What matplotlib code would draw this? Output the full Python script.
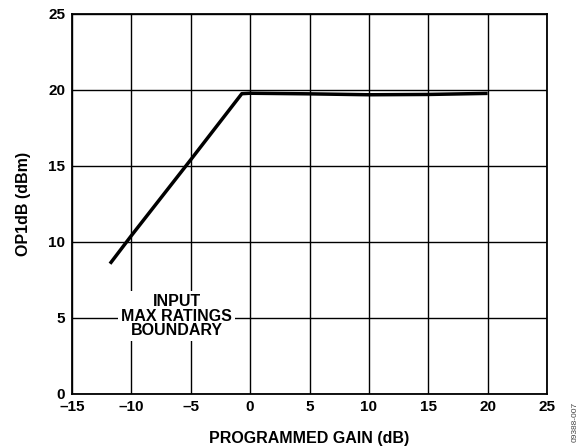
import matplotlib
matplotlib.use("Agg")
import matplotlib.pyplot as plt

gain_db = [-11.8, -10.0, -5.0, -0.7, 0.0, 5.0, 10.0, 15.0, 20.0]
op1db_dbm = [8.55, 10.4, 15.4, 19.75, 19.78, 19.74, 19.68, 19.7, 19.77]

xticks = [-15, -10, -5, 0, 5, 10, 15, 20, 25]
xticklabels = ["\u201315", "\u201310", "\u20135", "0", "5", "10", "15", "20", "25"]
yticks = [0, 5, 10, 15, 20, 25]

plt.rcParams['font.family'] = ['Liberation Sans', 'DejaVu Sans']
plt.rcParams['font.weight'] = 'bold'

fig = plt.figure(figsize=(5.81, 4.47), dpi=100)
ax = fig.add_axes([72/581, 1 - 393.5/447, (547 - 72)/581, (393.5 - 14)/447])

ax.set_xlim(-15, 25)
ax.set_ylim(0, 25)
ax.set_xticks(xticks)
ax.set_xticklabels(xticklabels)
ax.set_yticks(yticks)
ax.grid(True, color='black', linewidth=1.0)
ax.set_axisbelow(True)
ax.tick_params(length=0, labelsize=11, pad=5)
for lab in ax.get_xticklabels() + ax.get_yticklabels():
    lab.set_fontweight('bold')
for s in ax.spines.values():
    s.set_linewidth(1.3)

ax.plot(gain_db, op1db_dbm, color='black', linewidth=2.5, solid_capstyle='butt', zorder=3)

ax.text(-6.2, 5.1, "INPUT\nMAX RATINGS\nBOUNDARY", ha='center', va='center',
        fontsize=11.5, fontweight='bold', linespacing=0.95,
        bbox=dict(facecolor='white', edgecolor='none', pad=2), zorder=4)

ax.set_xlabel("PROGRAMMED GAIN (dB)", fontsize=11.5, fontweight='bold', labelpad=12)
ax.set_ylabel("OP1dB (dBm)", fontsize=11.5, fontweight='bold', labelpad=12)

fig.text(0.99, 0.055, "09388-007", rotation=90, fontsize=6, color='#444444',
         ha='center', va='center', fontweight='normal')

fig.savefig("out.png", dpi=100)
